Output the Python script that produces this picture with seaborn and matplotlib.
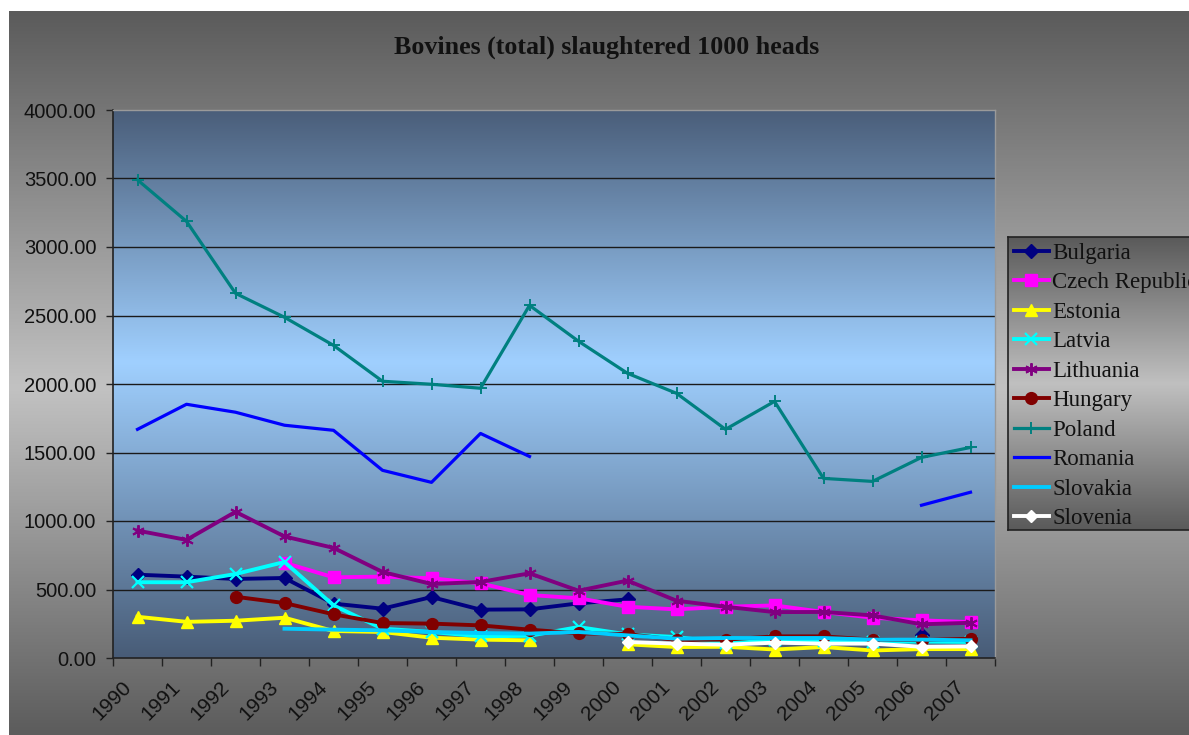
import numpy as np
import pandas as pd
import matplotlib
matplotlib.use("Agg")
import matplotlib.pyplot as plt
import seaborn as sns
from matplotlib.colors import LinearSegmentedColormap
from matplotlib.transforms import ScaledTranslation

nan = np.nan
years = [str(y) for y in range(1990, 2008)]

bulgaria = [608, 594, 577, 584, 397, 360, 445, 353, 355, 399, 428, nan, nan, nan, nan, nan, 165, nan]
czech = [nan, nan, nan, 695, 589, 594, 582, 545, 460, 436, 374, 355, 374, 384, 336, 294, 275, 262]
estonia = [301, 264, 272, 294, 197, 190, 148, 134, 129, nan, 100, 80, 82, 62, 80, 55, 65, 65]
latvia = [553, 553, 613, 701, 384, 214, 190, 158, 162, 226, 172, 153, 110, 132, 124, 117, 120, 117]
lithuania = [930, 862, 1067, 887, 804, 628, 540, 555, 618, 491, 565, 418, 374, 335, 336, 311, 246, 257]
hungary = [nan, nan, 447, 401, 319, 255, 251, 238, 207, 180, 175, 132, 134, 158, 158, 134, 130, 141]
poland = [3490, 3187, 2662, 2487, 2282, 2020, 1998, 1969, 2574, 2312, 2078, 1932, 1669, 1873, 1311, 1289, 1464, 1537]
romania = [1669, 1852, 1794, 1699, 1662, 1370, 1282, 1639, 1471, nan, nan, nan, nan, nan, nan, nan, 1115, 1210]
slovakia = [nan, nan, nan, 214, 207, 202, 190, 182, 178, 190, 165, 141, 146, 146, 146, 134, 134, 129]
slovenia = [nan, nan, nan, nan, nan, nan, nan, nan, nan, nan, 117, 105, 97, 112, 105, 105, 82, 85]

series_names = ["Bulgaria", "Czech Republic", "Estonia", "Latvia", "Lithuania",
                "Hungary", "Poland", "Romania", "Slovakia", "Slovenia"]
series_values = [bulgaria, czech, estonia, latvia, lithuania, hungary, poland,
                 romania, slovakia, slovenia]

styles = {
    "Bulgaria": dict(color="#000080", marker="D", markersize=7, mfc="#000080", mec="#000080"),
    "Czech Republic": dict(color="#FF00FF", marker="s", markersize=8.5, mfc="#FF00FF", mec="#FF00FF"),
    "Estonia": dict(color="#FFFF00", marker="^", markersize=9, mfc="#FFFF00", mec="#FFFF00"),
    "Latvia": dict(color="#00FFFF", marker="x", markersize=8, mfc="#00FFFF", mec="#00FFFF", mew=1.6),
    "Lithuania": dict(color="#800080", marker=(6, 2, 0), markersize=9, mfc="#800080", mec="#800080", mew=1.4),
    "Hungary": dict(color="#800000", marker="o", markersize=8.5, mfc="#800000", mec="#800000"),
    "Poland": dict(color="#008080", marker="+", markersize=8, mfc="#008080", mec="#008080", mew=1.4),
    "Romania": dict(color="#0000FF", marker=None),
    "Slovakia": dict(color="#00CCFF", marker=None),
    "Slovenia": dict(color="#FFFFFF", marker="D", markersize=6.5, mfc="#FFFFFF", mec="#FFFFFF"),
}

W, H = 1189, 735
fig = plt.figure(figsize=(W / 100, H / 100), dpi=100)
fig.patch.set_facecolor("white")

# chart-area background gradient
bg = fig.add_axes([9 / W, 0, 1 - 9 / W, 1 - 11 / H], zorder=-10)
bg_cmap = LinearSegmentedColormap.from_list(
    "bg", [(0, "#5b5b5b"), (0.52, "#c2c2c2"), (1, "#5c5c5c")])
bg.imshow(np.linspace(0, 1, 256).reshape(-1, 1), cmap=bg_cmap, aspect="auto",
          extent=(0, 1, 0, 1), origin="upper")
bg.set_axis_off()

# plot area
x0, x1, ytop, ybot = 113, 995, 110, 658
ax = fig.add_axes([x0 / W, 1 - ybot / H, (x1 - x0) / W, (ybot - ytop) / H])
pa_cmap = LinearSegmentedColormap.from_list(
    "pa", [(0, "#4a5e7a"), (0.46, "#a0d0ff"), (1, "#485c77")])
ax.imshow(np.linspace(0, 1, 256).reshape(-1, 1), cmap=pa_cmap, aspect="auto",
          extent=(-0.5, len(years) - 0.5, 0, 4000), origin="upper", zorder=0)

xs = np.arange(len(years))
for name, vals in zip(series_names, series_values):
    df = pd.DataFrame({"x": xs, "value": vals})
    df["seg"] = df["value"].isna().cumsum()
    df = df.dropna()
    st = dict(styles[name])
    first = True
    for _, seg in df.groupby("seg"):
        kw = dict(color=st["color"], linewidth=2.8, zorder=3)
        if st.get("marker") is not None:
            kw.update(marker=st["marker"], markersize=st["markersize"],
                      markerfacecolor=st["mfc"], markeredgecolor=st["mec"],
                      markeredgewidth=st.get("mew", 1.0))
        if name in ("Poland", "Romania"):
            kw["linewidth"] = 2.3
        sns.lineplot(data=seg, x="x", y="value", ax=ax, errorbar=None,
                     label=name if first else None, **kw)
        first = False

ax.set_xlim(-0.5, len(years) - 0.5)
ax.set_ylim(0, 4000)
ax.set_xlabel("")
ax.set_ylabel("")
ax.set_yticks(np.arange(0, 4001, 500))
ax.set_yticklabels([f"{v:.2f}" for v in np.arange(0, 4001, 500)],
                   fontsize=14.5, family="Liberation Sans", color="#111111")
for yv in np.arange(500, 4000, 500):
    ax.axhline(yv, color="#1a1a1a", linewidth=1.0, zorder=1)
ax.tick_params(axis="y", direction="out", length=5, width=1, color="#222222", pad=7)

ax.set_xticks(xs)
ax.set_xticklabels(years, rotation=45, ha="right", va="top",
                   rotation_mode="anchor", fontsize=15, family="Liberation Sans",
                   color="#111111")
ax.set_xticks(np.arange(-0.5, len(years)), minor=True)
ax.tick_params(axis="x", which="major", length=0, pad=14)
ax.tick_params(axis="x", which="minor", direction="out", length=6, width=1, color="#222222")
for lab in ax.get_xticklabels():
    lab.set_transform(lab.get_transform() + ScaledTranslation(-16 / 100, 0, fig.dpi_scale_trans))

for side in ("left", "bottom"):
    ax.spines[side].set_color("#222222")
    ax.spines[side].set_linewidth(1.2)
for side in ("top", "right"):
    ax.spines[side].set_color("#9a9a9a")
    ax.spines[side].set_linewidth(1.0)

handles, labels = ax.get_legend_handles_labels()
if ax.get_legend() is not None:
    ax.get_legend().remove()

# legend background
lx0, ly0, ly1 = 1008, 237, 530
lg_bg = fig.add_axes([lx0 / W, 1 - ly1 / H, (W + 10 - lx0) / W, (ly1 - ly0) / H], zorder=5)
lg_cmap = LinearSegmentedColormap.from_list(
    "lg", [(0, "#5a5a5a"), (0.5, "#c0c0c0"), (1, "#5a5a5a")])
lg_bg.imshow(np.linspace(0, 1, 256).reshape(-1, 1), cmap=lg_cmap, aspect="auto",
             extent=(0, 1, 0, 1), origin="upper")
lg_bg.set_xticks([])
lg_bg.set_yticks([])
for s in lg_bg.spines.values():
    s.set_color("#222222")
    s.set_linewidth(1.2)

leg = fig.legend(handles, labels, loc="upper left",
                 bbox_to_anchor=(lx0 / W, 1 - ly0 / H), bbox_transform=fig.transFigure,
                 frameon=False, prop={"family": "Liberation Serif", "size": 16.5},
                 handlelength=1.55, handletextpad=0.12, borderpad=0.25,
                 labelspacing=0.37, borderaxespad=0)
leg.set_zorder(6)
for t in leg.get_texts():
    t.set_color("#111111")

fig.text(607 / W, 1 - 47 / H, "Bovines (total) slaughtered 1000 heads",
         ha="center", va="center", fontsize=18.7, fontweight="bold",
         family="Liberation Serif", color="#111111")

fig.savefig("out.png", dpi=100)
